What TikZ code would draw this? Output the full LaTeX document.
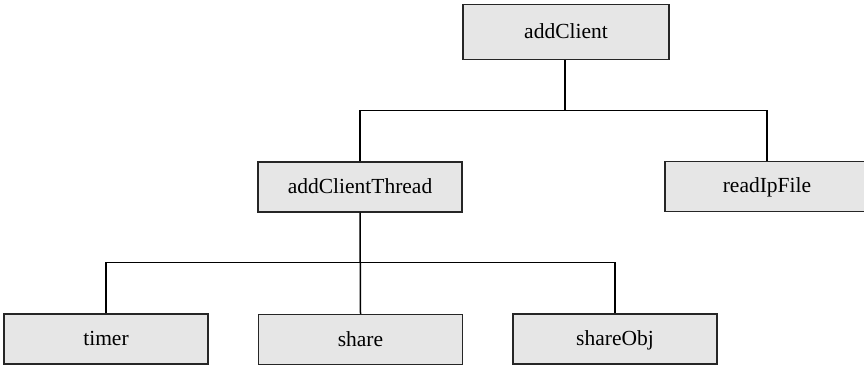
\documentclass[tikz,border=0pt]{standalone}
\usepackage{fontspec}
\setmainfont{Liberation Serif}
\definecolor{boxfill}{HTML}{E6E6E6}
\definecolor{boxline}{HTML}{262626}
\begin{document}
\begin{tikzpicture}[x=1pt,y=-1pt,
  fbox/.style={draw=boxline,fill=boxfill,line width=1.4pt,minimum width=204pt,minimum height=50pt,inner sep=0pt,
    text height=15pt,text depth=2pt,font=\fontsize{21.5}{26}\selectfont},
  conn/.style={draw=black,line width=1.5pt}]
\useasboundingbox (0,0) rectangle (864,366);
\node[fbox,minimum width=206pt,minimum height=55pt] (top) at (566,32) {addClient};
\node[fbox] (act) at (360,187) {addClientThread};
\node[fbox] (rif) at (767,186.5) {readIpFile};
\node[fbox] (timer) at (106,339) {timer};
\node[fbox] (share) at (360.5,339.5) {share};
\node[fbox] (shobj) at (615,339) {shareObj};
\coordinate (j1) at (565,110.5);
\coordinate (j2) at (360.5,262.5);
\draw[conn] (top.south -| j1) -- (j1);
\draw[conn] (act.north) |- (j1) -| (rif.north);
\draw[conn] (act.south) -- (share.north);
\draw[conn] (timer.north) |- (j2) -| (shobj.north);
\end{tikzpicture}
\end{document}
